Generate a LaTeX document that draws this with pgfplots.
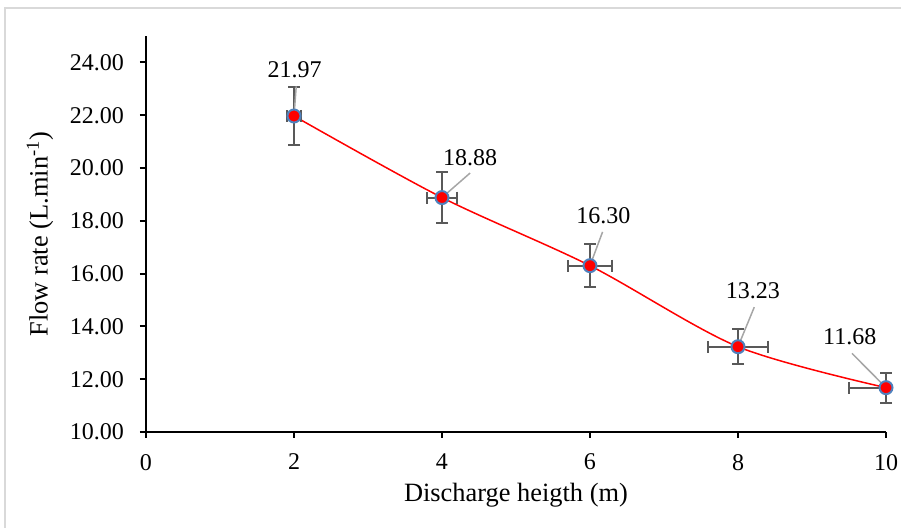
\documentclass[border=0pt]{standalone}
\usepackage{fontspec}
\setmainfont{Liberation Serif}
\usepackage{pgfplots}
\pgfplotsset{compat=1.18}
\definecolor{errgray}{RGB}{89,89,89}
\definecolor{markblue}{RGB}{79,129,189}
\definecolor{leadgray}{RGB}{166,166,166}
\definecolor{framegray}{RGB}{217,217,217}

\begin{document}
\begin{tikzpicture}
\useasboundingbox (0pt,0pt) rectangle (450.5pt,-264pt);
\draw[framegray, line width=0.6pt] (2.5pt,-264pt) -- (2.5pt,-4pt) -- (450.5pt,-4pt);
\begin{axis}[
  at={(73pt,-216pt)}, anchor=south west,
  scale only axis, width=370pt, height=198pt,
  xmin=0, xmax=10, ymin=10, ymax=25,
  axis lines*=left,
  axis line style={line width=1pt, black},
  xtick={0,2,...,10}, ytick={10,12,...,24},
  tick align=outside, major tick length=3pt,
  tick style={line width=1pt, black},
  /pgf/number format/assume math mode=true,
  ticklabel style={font=\fontsize{12}{14}\selectfont},
  xticklabel style={yshift=-4.5pt},
  yticklabel style={xshift=-4.5pt, /pgf/number format/fixed, /pgf/number format/fixed zerofill, /pgf/number format/precision=2},
  label style={font=\fontsize{13.2}{15}\selectfont},
  xlabel={Discharge heigth (m)},
  ylabel={Flow rate (L.min\textsuperscript{-1})},
  xlabel style={at={(axis description cs:0.5,-0.159)}, anchor=center},
  ylabel style={at={(axis description cs:-0.1432,0.5)}, anchor=center},
  clip=false,
]
\addplot[red, line width=0.75pt, smooth, mark=none] coordinates {
(2,21.97) (4,18.88) (6,16.30) (8,13.23) (10,11.68)
};
\addplot[only marks, mark=none,
  error bars/.cd, x dir=both, x explicit, y dir=both, y explicit,
  error bar style={draw=errgray, line width=1pt},
  error mark options={draw=errgray, rotate=90, mark size=3pt, line width=1pt}]
coordinates {
(2,21.97) +- (0.1,1.1)
(4,18.88) +- (0.2,0.95)
(6,16.30) +- (0.3,0.81)
(8,13.23) +- (0.4,0.66)
(10,11.68) += (0,0.57) -= (0.5,0.57)
};
\addplot[only marks, mark=*, mark size=3.25pt, mark options={fill=red, draw=markblue, line width=1pt}] coordinates {
(2,21.97) (4,18.88) (6,16.30) (8,13.23) (10,11.68)
};
\draw[leadgray, line width=0.75pt] (axis cs:2,21.97) -- (axis cs:2.03,23.09);
\draw[leadgray, line width=0.75pt] (axis cs:4,18.88) -- (axis cs:4.38,19.81);
\draw[leadgray, line width=0.75pt] (axis cs:6,16.30) -- (axis cs:6.17,17.58);
\draw[leadgray, line width=0.75pt] (axis cs:8,13.23) -- (axis cs:8.22,14.73);
\draw[leadgray, line width=0.75pt] (axis cs:10,11.68) -- (axis cs:9.54,12.98);
\node[font=\fontsize{12}{14}\selectfont] at (axis cs:2.01,23.73) {21.97};
\node[font=\fontsize{12}{14}\selectfont] at (axis cs:4.38,20.40) {18.88};
\node[font=\fontsize{12}{14}\selectfont] at (axis cs:6.18,18.21) {16.30};
\node[font=\fontsize{12}{14}\selectfont] at (axis cs:8.20,15.35) {13.23};
\node[font=\fontsize{12}{14}\selectfont] at (axis cs:9.51,13.61) {11.68};
\end{axis}
\end{tikzpicture}
\end{document}
